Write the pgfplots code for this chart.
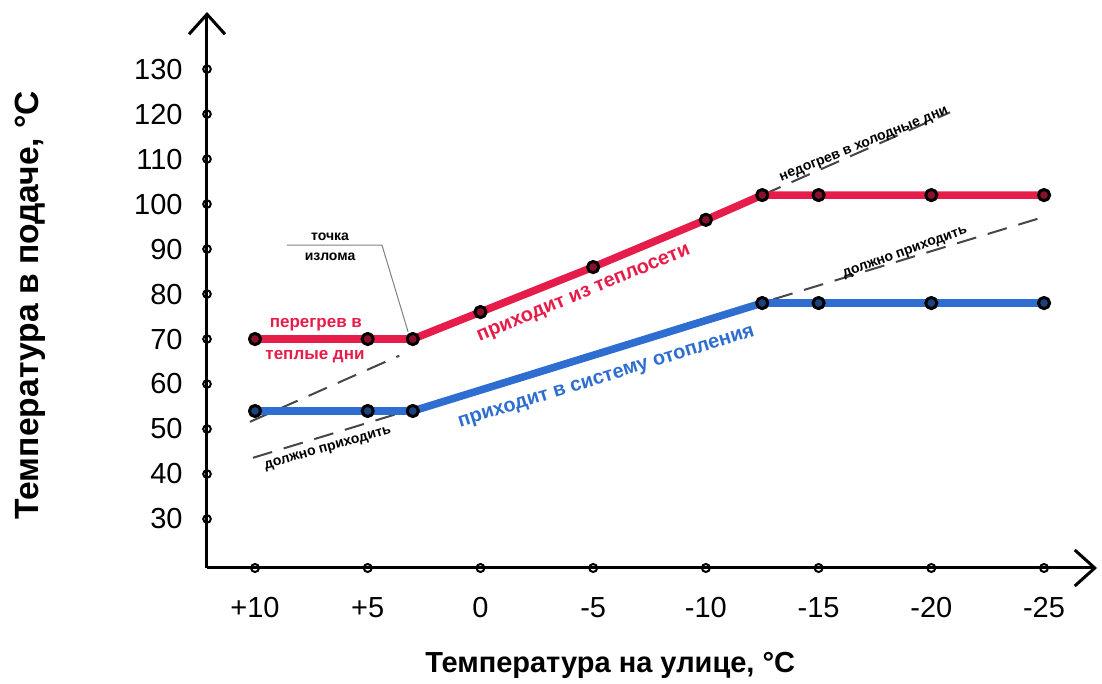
\documentclass[border=0pt]{standalone}
\usepackage{fontspec}
\setmainfont{Liberation Sans}
\usepackage{pgfplots}
\pgfplotsset{compat=1.18}
\usetikzlibrary{arrows.meta}
\definecolor{redline}{RGB}{230,28,74}
\definecolor{blueline}{RGB}{46,110,208}
\definecolor{dashgray}{RGB}{70,70,70}

\begin{document}
\begin{tikzpicture}
\path[use as bounding box] (-103.5pt,-58pt) rectangle (447.5pt,284pt);
\begin{axis}[
  scale only axis, width=445pt, height=278pt,
  xmin=-12.13, xmax=27.35, ymin=19.1, ymax=142.7,
  axis lines*=left,
  axis line style={line width=1.5pt, -{Straight Barb[length=10pt,width=18pt,line width=1.5pt]}},
  clip=false,
  xtick={-10,-5,0,5,10,15,20,25},
  xticklabels={+10,+5,0,-5,-10,-15,-20,-25},
  ytick={30,40,...,130},
  major tick length=0pt,
  tick style={draw=none},
  /pgf/number format/assume math mode=true,
  ticklabel style={font=\fontsize{14.5}{16}\selectfont, inner sep=0pt},
  yticklabel style={anchor=east, xshift=-12pt},
  xticklabel style={anchor=north, yshift=-14.5pt},
  xlabel={Температура на улице, °C},
  ylabel={Температура в подаче, °C},
  xlabel style={at={(axis description cs:0.453,-0.1745)}, anchor=center,
    font=\bfseries\fontsize{14.5}{16}\selectfont},
  ylabel style={at={(axis description cs:-0.199,0.473)}, anchor=center,
    font=\bfseries\fontsize{16.8}{18}\selectfont},
]
% пунктир: как должно быть
\addplot[dashgray, line width=1pt, dash pattern=on 10pt off 6pt] coordinates {(-10.09,43.6) (24.96,97.1)};
\addplot[dashgray, line width=1pt, dash pattern=on 10pt off 6pt] coordinates {(-10.22,51.6) (-3.6,66.3)};
\addplot[dashgray, line width=1pt, dash pattern=on 10pt off 6pt] coordinates {(12.5,102) (20.83,120.4)};

% из теплосети
\addplot[redline, line width=3.8pt, line join=round, mark=*, mark size=2.8pt,
  mark options={fill=redline!60!black, draw=black, line width=1.5pt, solid}]
  coordinates {(-10,70) (-5,70) (-3,70) (0,76) (5,86) (10,96.5) (12.5,102) (15,102) (20,102) (25,102)};

% в систему отопления
\addplot[blueline, line width=3.8pt, line join=round, mark=*, mark size=2.8pt,
  mark options={fill=blueline!60!black, draw=black, line width=1.5pt, solid}]
  coordinates {(-10,54) (-5,54) (-3,54) (12.5,78) (15,78) (20,78) (25,78)};

% кружки на осях
\addplot[only marks, mark=o, mark size=2pt, line width=1pt, black]
  coordinates {(-10,19.1) (-5,19.1) (0,19.1) (5,19.1) (10,19.1) (15,19.1) (20,19.1) (25,19.1)};
\addplot[only marks, mark=o, mark size=1.9pt, line width=1pt, black]
  coordinates {(-12.13,30) (-12.13,40) (-12.13,50) (-12.13,60) (-12.13,70) (-12.13,80)
               (-12.13,90) (-12.13,100) (-12.13,110) (-12.13,120) (-12.13,130)};

\node[font=\bfseries\fontsize{8.5}{10}\selectfont, text=redline] at (axis cs:-7.3,73.3) {перегрев в};
\node[font=\bfseries\fontsize{8.5}{10}\selectfont, text=redline] at (axis cs:-7.34,66.0) {теплые дни};
\node[font=\bfseries\fontsize{7}{8}\selectfont] at (axis cs:-6.67,92.7) {точка};
\node[font=\bfseries\fontsize{7}{8}\selectfont] at (axis cs:-6.67,88.2) {излома};
\draw[gray, line width=0.5pt] (axis cs:-8.58,90.9) -- (axis cs:-4.37,90.9) -- (axis cs:-3.21,71.6);
\node[rotate=22.5, text=redline, font=\bfseries\fontsize{10}{12}\selectfont] at (axis cs:4.6,79.9) {приходит из теплосети};
\node[rotate=17.2, text=blueline, font=\bfseries\fontsize{10}{12}\selectfont] at (axis cs:5.6,61.3) {приходит в систему отопления};
\node[rotate=22, font=\bfseries\fontsize{7}{8}\selectfont] at (axis cs:17.02,113.1) {недогрев в холодные дни};
\node[rotate=20, font=\bfseries\fontsize{7}{8}\selectfont] at (axis cs:18.84,89.1) {должно приходить};
\node[rotate=16, font=\bfseries\fontsize{7}{8}\selectfont] at (axis cs:-6.76,45.6) {должно приходить};
\end{axis}
\end{tikzpicture}
\end{document}
